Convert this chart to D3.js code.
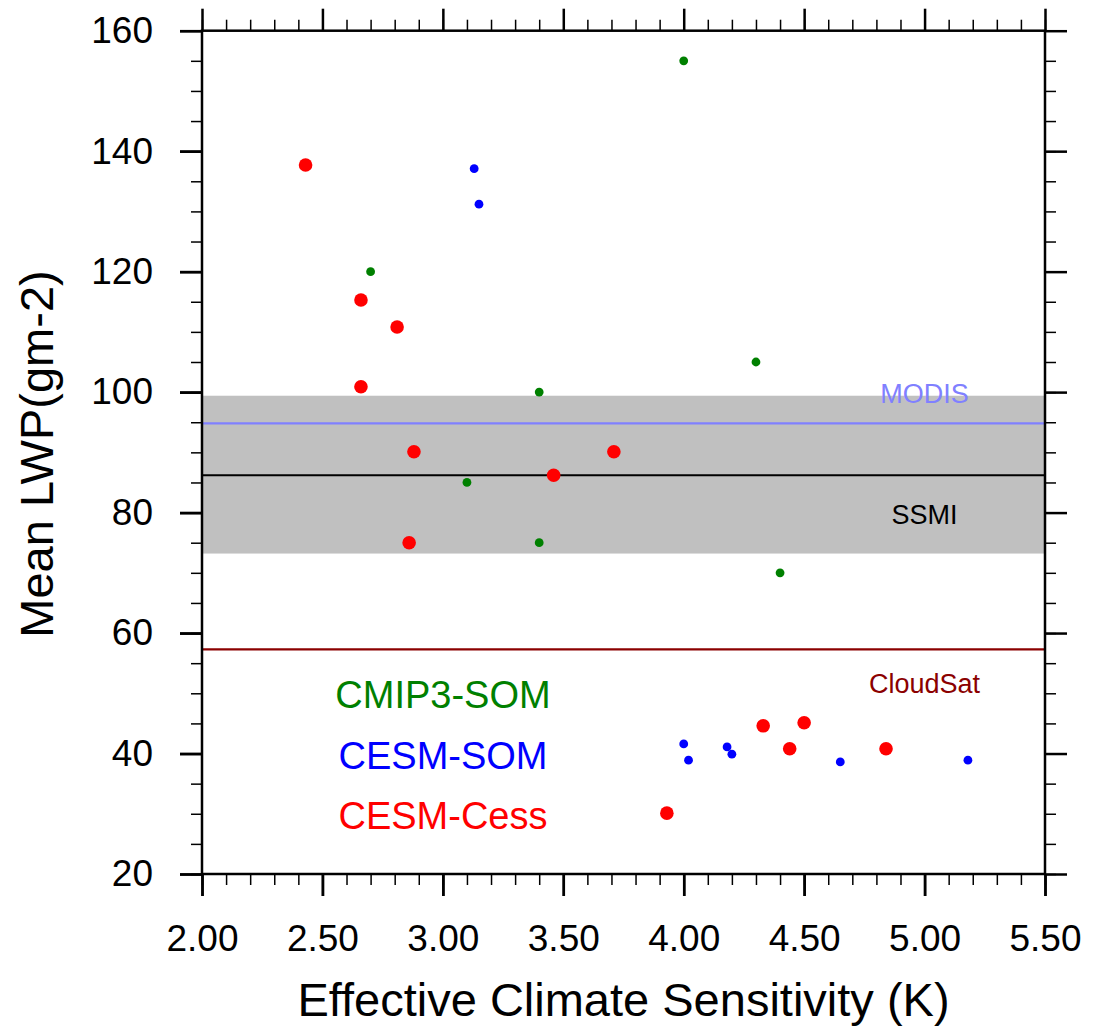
<!DOCTYPE html>
<html>
<head>
<meta charset="utf-8">
<script src="https://cdn.jsdelivr.net/npm/d3@7"></script>
<style>
  body { margin: 0; background: #fff; }
  svg text { font-family: "Liberation Sans", Arial, Helvetica, sans-serif; }
</style>
</head>
<body>
<div class="chart"></div>
<script>
// CMIP3 slab ocean runs (green)
var cmip3X = [4.00, 2.70, 4.30, 3.40, 3.10, 3.40, 4.40];
var cmip3Y = [155.0, 120.0, 105.0, 100.0, 85.0, 75.0, 70.0];

// CESM slab ocean runs (blue)
var somX = [3.13, 3.15, 4.00, 4.02, 4.18, 4.20, 4.65, 5.18];
var somY = [137.1, 131.2, 41.6, 38.9, 41.1, 39.9, 38.6, 38.9];

// CESM Cess runs (red)
var cessX = [2.43, 2.66, 2.81, 2.66, 2.88, 3.71, 3.46, 2.86, 3.93, 4.33, 4.50, 4.44, 4.84];
var cessY = [137.7, 115.3, 110.8, 100.9, 90.1, 90.1, 86.2, 75.0, 30.1, 44.6, 45.1, 40.8, 40.8];

// observations
var obsNames = ['MODIS', 'SSMI', 'CloudSat'];
var obsValues = [94.8, 86.2, 57.3];
var obsColors = ['#8080ff', '#000000', '#8b0000'];
var obsLabelY = [98.2, 78.1, 50.0];
var ssmiRange = [73.2, 99.4];

var xTicks = [2.0, 2.5, 3.0, 3.5, 4.0, 4.5, 5.0, 5.5];
var yTicks = [20, 40, 60, 80, 100, 120, 140, 160];

var width = 1095, height = 1026;
var plotLeft = 202, plotRight = 1045, plotTop = 30.7, plotBottom = 874;

var svg = d3.select('.chart')
    .append('svg')
    .attr('width', width)
    .attr('height', height);

var x = d3.scaleLinear().domain([2, 5.5]).range([plotLeft, plotRight]);
var y = d3.scaleLinear().domain([20, 160]).range([plotBottom, plotTop]);

// gray SSMI range
svg.append('rect')
    .attr('x', x(2))
    .attr('width', x(5.5) - x(2))
    .attr('y', y(ssmiRange[1]))
    .attr('height', y(ssmiRange[0]) - y(ssmiRange[1]))
    .style('fill', '#c0c0c0');

// obs lines + labels
obsValues.forEach(function(v, i){
    svg.append('line')
        .attr('x1', x(2)).attr('x2', x(5.5))
        .attr('y1', y(v)).attr('y2', y(v))
        .style('stroke', obsColors[i])
        .style('stroke-width', 2.2);
    svg.append('text')
        .attr('x', x(5.0))
        .attr('y', y(obsLabelY[i]))
        .style('text-anchor', 'middle')
        .style('font-size', '27px')
        .style('fill', obsColors[i])
        .text(obsNames[i]);
});

// points
function drawPoints(xs, ys, color, r){
    svg.append('g')
        .selectAll('circle')
        .data(xs)
        .enter()
        .append('circle')
        .attr('cx', function(d){ return x(d); })
        .attr('cy', function(d, i){ return y(ys[i]); })
        .attr('r', r)
        .style('fill', color);
}
drawPoints(cmip3X, cmip3Y, '#008000', 4.4);
drawPoints(somX, somY, '#0000ff', 4.4);
drawPoints(cessX, cessY, '#ff0000', 6.8);

// legend text
var legendNames = ['CMIP3-SOM', 'CESM-SOM', 'CESM-Cess'];
var legendColors = ['#008000', '#0000ff', '#ff0000'];
svg.selectAll('.legend')
    .data(legendNames)
    .enter()
    .append('text')
    .attr('class', 'legend')
    .attr('x', 443)
    .attr('y', function(d, i){ return 708 + i * 60.5; })
    .style('text-anchor', 'middle')
    .style('font-size', '38px')
    .style('fill', function(d, i){ return legendColors[i]; })
    .text(function(d){ return d; });

// AXES (major + minor on all four sides, ticks outward)
var xMinor = d3.range(20, 56).map(function(d){ return d / 10; });
var yMinor = d3.range(20, 161, 5);

function styleAxis(g, w){
    g.selectAll('.domain').remove();
    g.selectAll('line').style('stroke', '#000').style('stroke-width', w);
}

var axes = [
    [d3.axisBottom, x, 'translate(0,' + plotBottom + ')', xMinor, xTicks],
    [d3.axisTop, x, 'translate(0,' + plotTop + ')', xMinor, xTicks],
    [d3.axisLeft, y, 'translate(' + plotLeft + ',0)', yMinor, yTicks],
    [d3.axisRight, y, 'translate(' + plotRight + ',0)', yMinor, yTicks]
];
axes.forEach(function(a){
    var minor = svg.append('g').attr('transform', a[2])
        .call(a[0](a[1]).tickValues(a[3]).tickSize(11).tickFormat(''));
    styleAxis(minor, 1.5);
    var major = svg.append('g').attr('transform', a[2])
        .call(a[0](a[1]).tickValues(a[4]).tickSize(22).tickFormat(''));
    styleAxis(major, 2.5);
});

// labelled axes
var xAxis = svg.append('g')
    .attr('transform', 'translate(0,' + plotBottom + ')')
    .call(d3.axisBottom(x).tickValues(xTicks).tickSize(22).tickPadding(29).tickFormat(d3.format('.2f')));
styleAxis(xAxis, 2.5);
xAxis.selectAll('text').style('font-size', '37px').style('font-family', '"Liberation Sans", Arial, sans-serif').style('fill', '#000');

var yAxis = svg.append('g')
    .attr('transform', 'translate(' + plotLeft + ',0)')
    .call(d3.axisLeft(y).tickValues(yTicks).tickSize(22).tickPadding(27));
styleAxis(yAxis, 2.5);
yAxis.selectAll('text').style('font-size', '37px').style('font-family', '"Liberation Sans", Arial, sans-serif').style('fill', '#000');

// frame
svg.append('rect')
    .attr('x', plotLeft).attr('y', plotTop)
    .attr('width', plotRight - plotLeft).attr('height', plotBottom - plotTop)
    .style('fill', 'none')
    .style('stroke', '#000')
    .style('stroke-width', 2.5);

// xAxis Label
svg.append('text')
    .attr('x', (plotLeft + plotRight) / 2)
    .attr('y', 1016)
    .style('text-anchor', 'middle')
    .style('font-size', '47px')
    .text('Effective Climate Sensitivity (K)');

// yAxis Label
svg.append('text')
    .attr('transform', 'translate(53,' + 454 + ') rotate(-90)')
    .style('text-anchor', 'middle')
    .style('font-size', '47px')
    .text('Mean LWP(gm-2)');
</script>
</body>
</html>
